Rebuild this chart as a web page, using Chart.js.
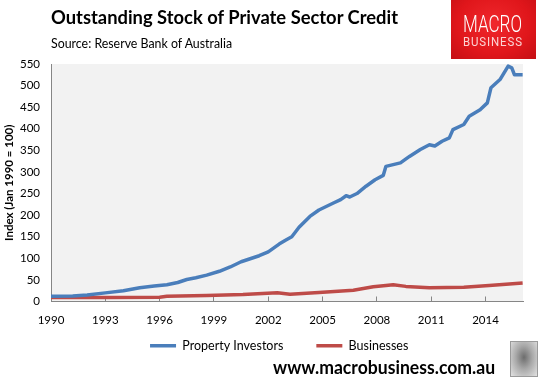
<!DOCTYPE html>
<html>
<head>
<meta charset="utf-8">
<script src="https://cdn.jsdelivr.net/npm/chart.js@4.4.1/dist/chart.umd.min.js"></script>
<style>
  html, body { margin: 0; padding: 0; background: #fff; }
  #wrap { position: relative; width: 542px; height: 377px; overflow: hidden; font-family: Lato, sans-serif; }
  #myChart { position: absolute; left: 0; top: 0; }
  .txt { position: absolute; white-space: nowrap; transform-origin: 0 0; color: #000; }
  #title { left: 51px; top: 5px; font-size: 19px; font-weight: bold; }
  #source { left: 51px; top: 36px; font-size: 12.5px; }
  #site { left: 273px; top: 356px; font-size: 18px; font-weight: bold; }
  #logo { position: absolute; left: 451px; top: 0; width: 85px; height: 59px;
    background: radial-gradient(ellipse at 50% 40%, #f0282c 0%, #e0161b 60%, #c40f14 100%); }
  #macro { left: 12px; top: 12px; font-family: Roboto, sans-serif; font-weight: 300; font-size: 24px; color: #fff; line-height: 1; }
  #business { left: 12px; top: 35px; font-family: Roboto, sans-serif; font-size: 13px; color: #fbd3d3; line-height: 1; letter-spacing: 1px; }
  #wolf { position: absolute; left: 510px; top: 341px; width: 26px; height: 34px; border: 1px solid #9a9a9a;
    background: radial-gradient(ellipse at 50% 45%, #6d6d6d 0%, #a9a9a9 45%, #e2e2e2 100%); }
</style>
</head>
<body>
<div id="wrap">
  <canvas id="myChart" width="542" height="377"></canvas>
  <div id="title" class="txt">Outstanding Stock of Private Sector Credit</div>
  <div id="source" class="txt">Source: Reserve Bank of Australia</div>
  <div id="logo"><div id="macro" class="txt">MACRO</div><div id="business" class="txt">BUSINESS</div></div>
  <div id="site" class="txt">www.macrobusiness.com.au</div>
  <div id="wolf"></div>
</div>
<script>
const investorYears = [1990.0, 1991.2, 1992.0, 1993.0, 1994.0, 1994.9, 1995.7, 1996.4, 1997.0, 1997.5,
  1998.0, 1998.6, 1999.3, 1999.9, 2000.5, 2001.0, 2001.5, 2002.0, 2002.6, 2003.0,
  2003.3, 2003.7, 2004.3, 2004.8, 2005.2, 2005.6, 2006.0, 2006.3, 2006.5, 2006.9,
  2007.4, 2007.9, 2008.35, 2008.5, 2009.3, 2009.8, 2010.4, 2010.9, 2011.2, 2011.6,
  2012.0, 2012.2, 2012.8, 2013.1, 2013.7, 2014.1, 2014.3, 2014.8, 2015.25, 2015.45,
  2015.6, 2016.05]
const investorValues = [12, 13, 15, 20, 25, 32, 36, 39, 44, 51,
  55, 61, 70, 80, 92, 99, 106, 115, 133, 143,
  150, 172, 197, 212, 220, 228, 236, 245, 242, 250,
  267, 282, 292, 313, 321, 336, 352, 363, 360, 371,
  379, 398, 410, 429, 444, 460, 495, 514, 545, 541,
  525, 525]

const businessYears = [1990.0, 1993.0, 1996.0, 1996.4, 1998.6, 2000.6, 2002.5, 2003.2, 2004.8, 2006.7,
  2007.8, 2008.5, 2008.9, 2009.6, 2010.9, 2012.8, 2014.2, 2016.05]
const businessValues = [9, 9, 10, 12, 14, 16, 20, 17, 21, 26,
  34, 37, 39, 35, 32, 33, 37, 43]

const xTicks = [1990, 1993, 1996, 1999, 2002, 2005, 2008, 2011, 2014]
const yTicks = [0, 50, 100, 150, 200, 250, 300, 350, 400, 450, 500, 550]

function toPoints(xs, ys) {
  return xs.map((x, i) => ({ x: x, y: ys[i] }))
}

// stretch a text box to the width measured on the reference
function fitWidth(id, w) {
  const el = document.getElementById(id)
  el.style.transform = 'scaleX(' + (w / el.offsetWidth) + ')'
}

const plotBackground = {
  id: 'plotBackground',
  beforeDraw(chart) {
    const a = chart.chartArea
    const ctx = chart.ctx
    ctx.save()
    ctx.fillStyle = '#f2f2f2'
    ctx.fillRect(a.left, a.top, a.right - a.left, a.bottom - a.top)
    ctx.restore()
  }
}

function initChart() {
  const ctx = document.getElementById('myChart')
  const config = {
    type: 'line',
    data: {
      datasets: [
        {
          label: 'Property Investors',
          data: toPoints(investorYears, investorValues),
          borderColor: '#4a7ebb',
          backgroundColor: '#4a7ebb',
          borderWidth: 3.5,
          pointRadius: 0,
          pointStyle: 'line',
          borderJoinStyle: 'round',
          fill: false
        },
        {
          label: 'Businesses',
          data: toPoints(businessYears, businessValues),
          borderColor: '#be4b48',
          backgroundColor: '#be4b48',
          borderWidth: 3.5,
          pointRadius: 0,
          pointStyle: 'line',
          borderJoinStyle: 'round',
          fill: false
        }
      ]
    },
    options: {
      responsive: false,
      animation: false,
      layout: { padding: { top: 64, right: 19, bottom: 15, left: 0 } },
      plugins: {
        tooltip: { enabled: false },
        legend: {
          position: 'bottom',
          fullSize: false,
          labels: {
            usePointStyle: true,
            pointStyle: 'line',
            pointStyleWidth: 26,
            padding: 8,
            color: '#000',
            font: { family: 'Lato', size: 12.5 },
            generateLabels: (chart) => {
              const items = Chart.defaults.plugins.legend.labels.generateLabels(chart)
              // wider gap between the entries and a small shift left, as in the reference
              items.forEach((it, i) => {
                it.text = it.text + (i < items.length - 1 ? '\u2003\u2003\u2002' : '\u2003\u2002')
              })
              return items
            }
          }
        }
      },
      scales: {
        x: {
          type: 'linear',
          min: 1990,
          max: 2016.07,
          afterFit: (s) => { s.height = 30 },
          afterBuildTicks: (s) => { s.ticks = xTicks.map((v) => ({ value: v })) },
          grid: { drawOnChartArea: false, drawTicks: true, tickLength: -5, color: '#868686' },
          border: { display: true, color: '#868686', width: 1 },
          ticks: {
            stepSize: 3,
            padding: 17,
            maxRotation: 0,
            autoSkip: false,
            color: '#000',
            font: { family: 'Lato', size: 11.5 },
            callback: (v) => String(v)
          }
        },
        y: {
          min: 0,
          max: 550,
          afterFit: (s) => { s.width = 51 },
          afterBuildTicks: (s) => { s.ticks = yTicks.map((v) => ({ value: v })) },
          grid: { display: false, drawTicks: false },
          border: { display: true, color: '#868686', width: 1 },
          ticks: {
            padding: 11,
            color: '#000',
            font: { family: 'Lato', size: 11.5 }
          },
          title: {
            display: true,
            text: 'Index (Jan 1990 = 100)',
            color: '#000',
            padding: { top: 2, bottom: 0 },
            font: { family: 'Lato', size: 11.5, weight: 'bold' }
          }
        }
      }
    },
    plugins: [plotBackground]
  }
  // eslint-disable-next-line no-undef
  new Chart(ctx, config)
}

window.addEventListener('load', () => {
  fitWidth('title', 347)
  fitWidth('source', 181)
  fitWidth('site', 222)
  fitWidth('macro', 59)
  fitWidth('business', 60)
  initChart()
})
</script>
</body>
</html>
